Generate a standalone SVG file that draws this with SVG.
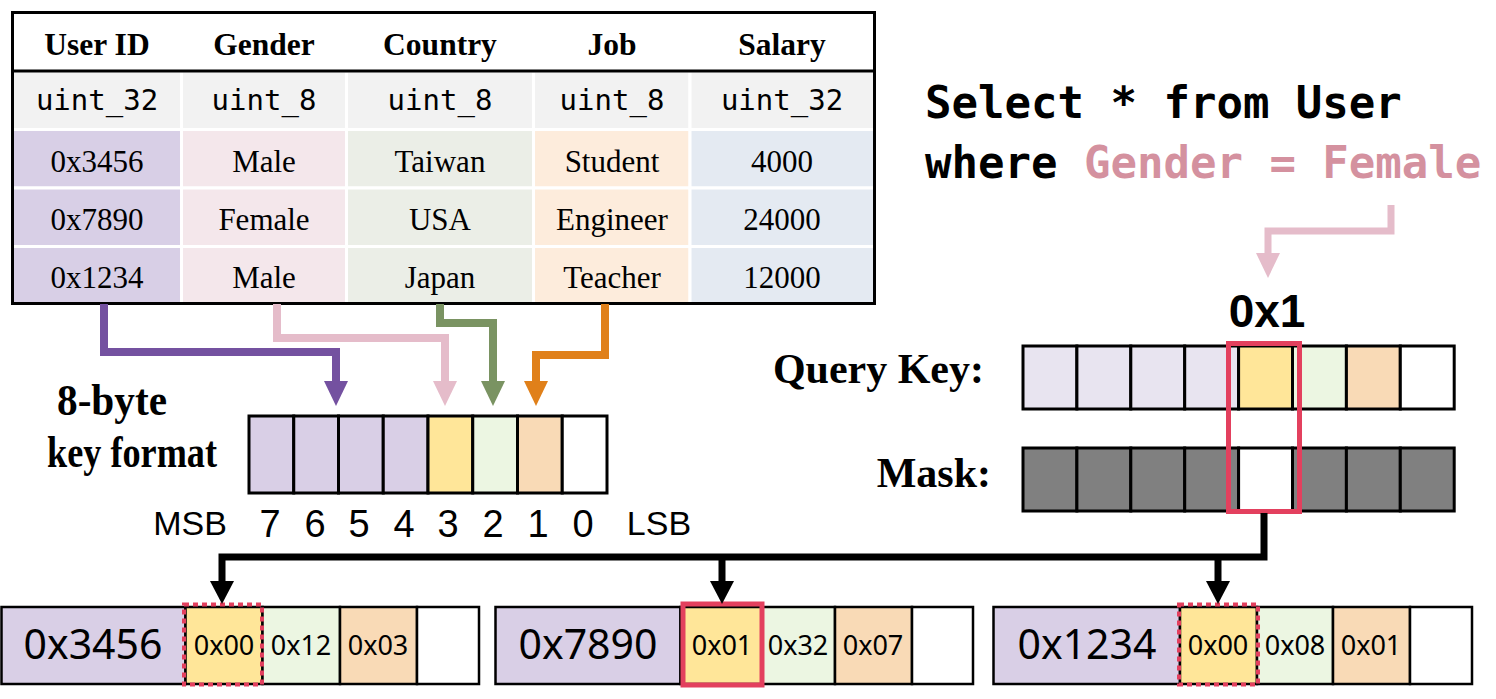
<svg xmlns="http://www.w3.org/2000/svg" width="1496" height="699" viewBox="0 0 1496 699">
<style>
.hd{font-family:"Liberation Serif",serif;font-weight:bold;font-size:31.5px;text-anchor:middle;fill:#000}
.ty{font-family:"DejaVu Sans Mono",monospace;font-size:29px;text-anchor:middle;fill:#000}
.dt{font-family:"Liberation Serif",serif;font-size:31px;text-anchor:middle;fill:#000}
.cell{stroke:#fff;stroke-width:3}
.bl{stroke:#000;stroke-width:3}
.lbl{font-family:"Liberation Serif",serif;font-weight:bold;fill:#000}
.num{font-family:"Liberation Sans",sans-serif;fill:#000;text-anchor:middle}
.rec{font-family:"Noto Sans",sans-serif;fill:#000;text-anchor:middle}
.sql{font-family:"DejaVu Sans Mono",monospace;font-weight:bold;font-size:44px;fill:#000}
.conn{fill:none;stroke-linejoin:miter}
.lav{fill:#d9cfe6}.yel{fill:#ffe699}.grn{fill:#ecf6e2}.pch{fill:#f9dab6}.wht{fill:#fff}
.red{fill:none;stroke:#e3405e}
</style>
<defs>
<marker id="aP" markerUnits="userSpaceOnUse" markerWidth="26" markerHeight="26" viewBox="0 -13 26 26" refX="0" refY="0" orient="auto"><path d="M0,-12 L25,0 L0,12 z" fill="#7451a0"/></marker>
<marker id="aK" markerUnits="userSpaceOnUse" markerWidth="26" markerHeight="26" viewBox="0 -13 26 26" refX="0" refY="0" orient="auto"><path d="M0,-12 L25,0 L0,12 z" fill="#e5bcca"/></marker>
<marker id="aG" markerUnits="userSpaceOnUse" markerWidth="26" markerHeight="26" viewBox="0 -13 26 26" refX="0" refY="0" orient="auto"><path d="M0,-12 L25,0 L0,12 z" fill="#7a9362"/></marker>
<marker id="aO" markerUnits="userSpaceOnUse" markerWidth="26" markerHeight="26" viewBox="0 -13 26 26" refX="0" refY="0" orient="auto"><path d="M0,-12 L25,0 L0,12 z" fill="#e0801a"/></marker>
<marker id="aB" markerUnits="userSpaceOnUse" markerWidth="26" markerHeight="26" viewBox="0 -13 26 26" refX="0" refY="0" orient="auto"><path d="M0,-12 L23,0 L0,12 z" fill="#000"/></marker>
</defs>
<rect width="1496" height="699" fill="#fff"/>

<g id="table">
<rect x="12" y="12" width="863" height="59" fill="#fff"/>
<rect class="cell" x="12" y="71" width="169.5" height="58.5" fill="#f2f2f2"/>
<rect class="cell" x="181.5" y="71" width="165" height="58.5" fill="#f2f2f2"/>
<rect class="cell" x="346.5" y="71" width="187" height="58.5" fill="#f2f2f2"/>
<rect class="cell" x="533.5" y="71" width="156.5" height="58.5" fill="#f2f2f2"/>
<rect class="cell" x="690" y="71" width="185" height="58.5" fill="#f2f2f2"/>
<g>
<rect class="cell" x="12" y="129.5" width="169.5" height="58.5" fill="#d8cfe6"/>
<rect class="cell" x="12" y="188" width="169.5" height="58.5" fill="#d8cfe6"/>
<rect class="cell" x="12" y="246.5" width="169.5" height="57.5" fill="#d8cfe6"/>
<rect class="cell" x="181.5" y="129.5" width="165" height="58.5" fill="#f4e7eb"/>
<rect class="cell" x="181.5" y="188" width="165" height="58.5" fill="#f4e7eb"/>
<rect class="cell" x="181.5" y="246.5" width="165" height="57.5" fill="#f4e7eb"/>
<rect class="cell" x="346.5" y="129.5" width="187" height="58.5" fill="#ebeee7"/>
<rect class="cell" x="346.5" y="188" width="187" height="58.5" fill="#ebeee7"/>
<rect class="cell" x="346.5" y="246.5" width="187" height="57.5" fill="#ebeee7"/>
<rect class="cell" x="533.5" y="129.5" width="156.5" height="58.5" fill="#fdecdc"/>
<rect class="cell" x="533.5" y="188" width="156.5" height="58.5" fill="#fdecdc"/>
<rect class="cell" x="533.5" y="246.5" width="156.5" height="57.5" fill="#fdecdc"/>
<rect class="cell" x="690" y="129.5" width="185" height="58.5" fill="#e4eaf2"/>
<rect class="cell" x="690" y="188" width="185" height="58.5" fill="#e4eaf2"/>
<rect class="cell" x="690" y="246.5" width="185" height="57.5" fill="#e4eaf2"/>
</g>
<rect x="12.5" y="12.5" width="862" height="291" fill="none" class="bl"/>
<line x1="12" y1="71" x2="875" y2="71" class="bl"/>
<text class="hd" x="97" y="55">User ID</text>
<text class="hd" x="264" y="55">Gender</text>
<text class="hd" x="440" y="55">Country</text>
<text class="hd" x="612" y="55">Job</text>
<text class="hd" x="782" y="55">Salary</text>
<text class="ty" x="97" y="110">uint_32</text>
<text class="ty" x="264" y="110">uint_8</text>
<text class="ty" x="440" y="110">uint_8</text>
<text class="ty" x="612" y="110">uint_8</text>
<text class="ty" x="782" y="110">uint_32</text>
<text class="dt" x="97" y="172">0x3456</text>
<text class="dt" x="264" y="172">Male</text>
<text class="dt" x="440" y="172">Taiwan</text>
<text class="dt" x="612" y="172">Student</text>
<text class="dt" x="782" y="172">4000</text>
<text class="dt" x="97" y="230">0x7890</text>
<text class="dt" x="264" y="230">Female</text>
<text class="dt" x="440" y="230">USA</text>
<text class="dt" x="612" y="230">Engineer</text>
<text class="dt" x="782" y="230">24000</text>
<text class="dt" x="97" y="288">0x1234</text>
<text class="dt" x="264" y="288">Male</text>
<text class="dt" x="440" y="288">Japan</text>
<text class="dt" x="612" y="288">Teacher</text>
<text class="dt" x="782" y="288">12000</text>
</g>

<g id="key-format">
<text class="lbl" font-size="44" x="57" y="415" textLength="110" lengthAdjust="spacingAndGlyphs">8-byte</text>
<text class="lbl" font-size="44" x="47" y="467" textLength="170" lengthAdjust="spacingAndGlyphs">key format</text>
<g stroke="#000" stroke-width="3">
<rect class="lav" x="249" y="416" width="44.75" height="77"/>
<rect class="lav" x="293.75" y="416" width="44.75" height="77"/>
<rect class="lav" x="338.5" y="416" width="44.75" height="77"/>
<rect class="lav" x="383.25" y="416" width="44.75" height="77"/>
<rect class="yel" x="428" y="416" width="44.75" height="77"/>
<rect class="grn" x="472.75" y="416" width="44.75" height="77"/>
<rect class="pch" x="517.5" y="416" width="44.75" height="77"/>
<rect class="wht" x="562.25" y="416" width="44.75" height="77"/>
</g>
<text class="num" font-size="34" x="190" y="535">MSB</text>
<text class="num" font-size="38" x="270" y="537">7</text>
<text class="num" font-size="38" x="315" y="537">6</text>
<text class="num" font-size="38" x="359" y="537">5</text>
<text class="num" font-size="38" x="404" y="537">4</text>
<text class="num" font-size="38" x="448" y="537">3</text>
<text class="num" font-size="38" x="493" y="537">2</text>
<text class="num" font-size="38" x="538" y="537">1</text>
<text class="num" font-size="38" x="583" y="537">0</text>
<text class="num" font-size="34" x="659" y="535">LSB</text>
</g>

<g id="query">
<text class="sql" x="925" y="118">Select * from User</text>
<text class="sql" x="925" y="178">where <tspan fill="#d4919f">Gender = Female</tspan></text>
<text font-family="Liberation Sans, sans-serif" font-weight="bold" font-size="46" text-anchor="middle" x="1267" y="327">0x1</text>
</g>

<g id="query-key">
<text class="lbl" font-size="42" text-anchor="end" x="984" y="383">Query Key:</text>
<g stroke="#000" stroke-width="3">
<rect x="1023" y="346" width="53.9" height="63" fill="#e8e4f0"/>
<rect x="1076.9" y="346" width="53.9" height="63" fill="#e8e4f0"/>
<rect x="1130.8" y="346" width="53.9" height="63" fill="#e8e4f0"/>
<rect x="1184.7" y="346" width="53.9" height="63" fill="#e8e4f0"/>
<rect class="yel" x="1238.6" y="346" width="53.9" height="63"/>
<rect class="grn" x="1292.5" y="346" width="53.9" height="63"/>
<rect class="pch" x="1346.4" y="346" width="53.9" height="63"/>
<rect class="wht" x="1400.3" y="346" width="53.9" height="63"/>
</g>
</g>

<g id="mask">
<text class="lbl" font-size="42" text-anchor="end" x="991" y="487">Mask:</text>
<g stroke="#000" stroke-width="3">
<rect x="1023" y="448" width="53.9" height="63" fill="#808080"/>
<rect x="1076.9" y="448" width="53.9" height="63" fill="#808080"/>
<rect x="1130.8" y="448" width="53.9" height="63" fill="#808080"/>
<rect x="1184.7" y="448" width="53.9" height="63" fill="#808080"/>
<rect class="wht" x="1238.6" y="448" width="53.9" height="63"/>
<rect x="1292.5" y="448" width="53.9" height="63" fill="#808080"/>
<rect x="1346.4" y="448" width="53.9" height="63" fill="#808080"/>
<rect x="1400.3" y="448" width="53.9" height="63" fill="#808080"/>
</g>
<rect class="red" x="1228.5" y="343.5" width="71" height="168" stroke-width="5"/>
</g>

<g id="record-1">
<g stroke="#000" stroke-width="2.5">
<rect class="lav" x="1.5" y="607" width="184" height="77"/>
<rect class="yel" x="185.5" y="607" width="77" height="77"/>
<rect class="grn" x="262.5" y="607" width="77.5" height="77"/>
<rect class="pch" x="340" y="607" width="77" height="77"/>
<rect class="wht" x="417" y="607" width="62" height="77"/>
</g>
<rect class="red" x="184" y="604.5" width="78" height="80" stroke-width="4" stroke-dasharray="5 4"/>
<text class="rec" font-size="41" x="93" y="659">0x3456</text>
<text class="rec" font-size="27" x="224" y="655">0x00</text>
<text class="rec" font-size="27" x="301" y="655">0x12</text>
<text class="rec" font-size="27" x="378" y="655">0x03</text>
</g>

<g id="record-2">
<g stroke="#000" stroke-width="2.5">
<rect class="lav" x="495.5" y="607" width="185" height="77"/>
<rect class="yel" x="680.5" y="607" width="81.5" height="77"/>
<rect class="grn" x="762" y="607" width="73" height="77"/>
<rect class="pch" x="835" y="607" width="77" height="77"/>
<rect class="wht" x="912" y="607" width="61" height="77"/>
</g>
<rect class="red" x="683" y="604" width="79" height="81" stroke-width="5"/>
<text class="rec" font-size="41" x="588" y="659">0x7890</text>
<text class="rec" font-size="27" x="722" y="655">0x01</text>
<text class="rec" font-size="27" x="798" y="655">0x32</text>
<text class="rec" font-size="27" x="873" y="655">0x07</text>
</g>

<g id="record-3">
<g stroke="#000" stroke-width="2.5">
<rect class="lav" x="993.5" y="607" width="186.5" height="77"/>
<rect class="yel" x="1180" y="607" width="77" height="77"/>
<rect class="grn" x="1257" y="607" width="76" height="77"/>
<rect class="pch" x="1333" y="607" width="77" height="77"/>
<rect class="wht" x="1410" y="607" width="62" height="77"/>
</g>
<rect class="red" x="1179" y="604.5" width="79" height="80" stroke-width="4" stroke-dasharray="5 4"/>
<text class="rec" font-size="41" x="1087" y="659">0x1234</text>
<text class="rec" font-size="27" x="1218" y="655">0x00</text>
<text class="rec" font-size="27" x="1295" y="655">0x08</text>
<text class="rec" font-size="27" x="1371" y="655">0x01</text>
</g>

<g id="connectors" class="conn">
<path d="M104,304 V352 H336 V381" stroke="#7451a0" stroke-width="8" marker-end="url(#aP)"/>
<path d="M277,304 V338 H445 V381" stroke="#e5bcca" stroke-width="8" marker-end="url(#aK)"/>
<path d="M440,304 V323 H493 V381" stroke="#7a9362" stroke-width="8" marker-end="url(#aG)"/>
<path d="M605,304 V355 H536 V381" stroke="#e0801a" stroke-width="8" marker-end="url(#aO)"/>
<path d="M1391,205 V231 H1268 V253" stroke="#e5bcca" stroke-width="7" marker-end="url(#aK)"/>
<path d="M1264,513 V557 H222 V581" stroke="#000" stroke-width="7" marker-end="url(#aB)"/>
<path d="M722,557 V581" stroke="#000" stroke-width="7" marker-end="url(#aB)"/>
<path d="M1218,557 V581" stroke="#000" stroke-width="7" marker-end="url(#aB)"/>
</g>
</svg>
